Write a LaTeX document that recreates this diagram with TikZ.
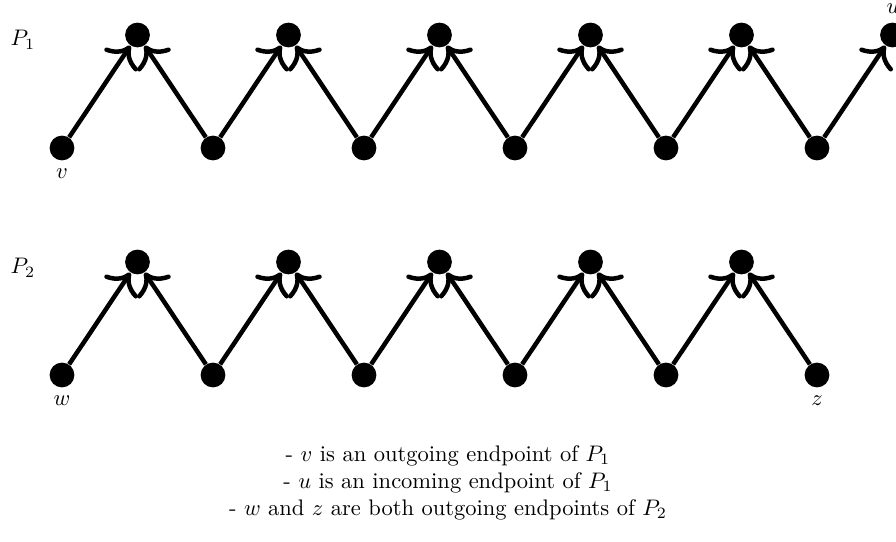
\documentclass[tikz,border=0pt]{standalone}
\usetikzlibrary{arrows.meta}
\begin{document}
\begin{tikzpicture}[x=0.4444pt,y=-0.4444pt,
  vert/.style={circle,fill=black,inner sep=0pt,minimum size=11pt},
  arc/.style={line width=2pt,-{To[scale=1.4]}}]
\useasboundingbox (0,0) rectangle (896,542);
% row 1
\foreach \i in {0,...,5}{
  \node[vert] (a\i) at ({62+151*\i},148) {};
  \node[vert] (b\i) at ({137.5+151*\i},35) {};
}
\foreach \i in {0,...,5}{
  \draw[arc] (a\i) -- (b\i);
}
\foreach \i [evaluate=\i as \j using int(\i+1)] in {0,...,4}{
  \draw[arc] (a\j) -- (b\i);
}
% row 2
\foreach \i in {0,...,5}{
  \node[vert] (c\i) at ({62+151*\i},375) {};
}
\foreach \i in {0,...,4}{
  \node[vert] (d\i) at ({137.5+151*\i},262) {};
}
\foreach \i [evaluate=\i as \j using int(\i+1)] in {0,...,4}{
  \draw[arc] (c\i) -- (d\i);
  \draw[arc] (c\j) -- (d\i);
}
% labels
\node (lv) at (62,174) {$v$};
\node (lu) at (893,9) {$u$};
\node (lw) at (62,401) {$w$};
\node (lz) at (817,401) {$z$};
\node (p1) at (23,40) {$P_1$};
\node (p2) at (23,268) {$P_2$};
\node[align=center] (cap) at (448,483) {- $v$ is an outgoing endpoint of $P_1$\\- $u$ is an incoming endpoint of $P_1$\\- $w$ and $z$ are both outgoing endpoints of $P_2$};
\end{tikzpicture}
\end{document}
